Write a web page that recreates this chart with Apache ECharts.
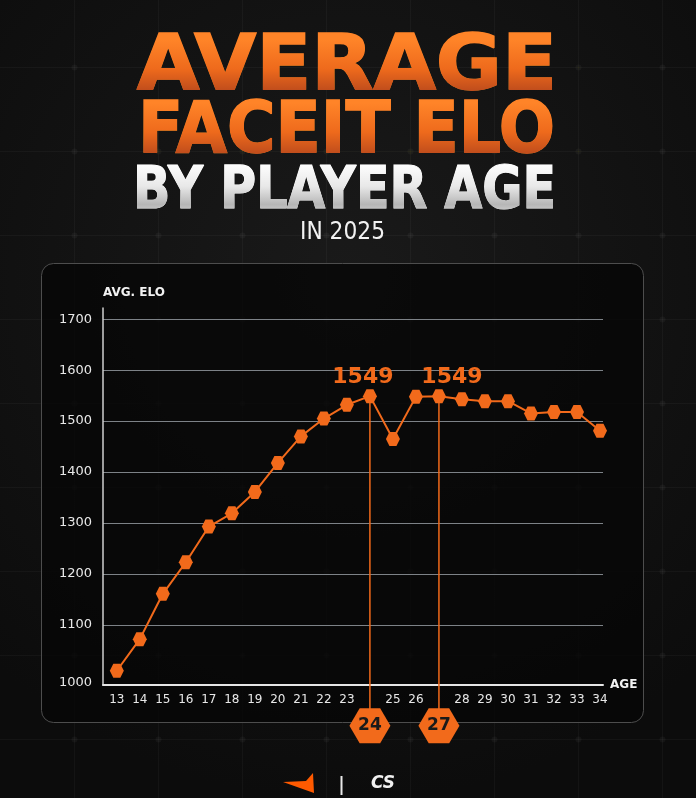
<!DOCTYPE html>
<html><head><meta charset="utf-8">
<script src="https://cdn.jsdelivr.net/npm/echarts@6/dist/echarts.min.js"></script>
<style>html,body{margin:0;padding:0;background:#121212;}#c{width:696px;height:798px;}</style>
</head><body><div id="c"></div>
<script>
// ---- data ----
const ages = [13,14,15,16,17,18,19,20,21,22,23,24,25,26,27,28,29,30,31,32,33,34];
const avgElo = [1010,1072,1161,1223,1293,1319,1361,1418,1470,1505,1532,1549,1465,1548,1549,1543,1539,1539,1515,1518,1518,1481];
const peakAges = [24, 27];
const yLabelValues = [1000,1100,1200,1300,1400,1500,1600,1700];
const yGridValues = [1100,1200,1300,1400,1500,1600,1700];
const xLabelValues = [13,14,15,16,17,18,19,20,21,22,23,25,26,28,29,30,31,32,33,34];
const titleLine1 = 'AVERAGE';
const titleLine2 = 'FACEIT ELO';
const titleLine3 = 'BY PLAYER AGE';
const subtitle = 'IN 2025';
const yAxisName = 'AVG. ELO';
const xAxisName = 'AGE';

// ---- style ----
const ORANGE = '#f26a1b';
const FONT = '"DejaVu Sans", sans-serif';
const Y_MIN = 982, Y_MAX = 1722;
const BADGE_LEVEL = Y_MIN - 80;
const HEX_MARK = 'path://M-1,0 L-0.5,-0.866 L0.5,-0.866 L1,0 L0.5,0.866 L-0.5,0.866 Z';
const HEX_BADGE = 'path://M0,17 L10,0 L30,0 L40,17 L30,34 L10,34 Z';

const chart = echarts.init(document.getElementById('c'), null, {renderer: 'canvas'});

const mctx = document.createElement('canvas').getContext('2d');
function fitScale(text, font, target) { mctx.font = font; return target / mctx.measureText(text).width; }

function titleText(text, size, weight, cx, capCenter, targetW, fill, strokeW) {
  const font = weight + ' ' + size + 'px ' + FONT;
  const s = fitScale(text, font, targetW);
  const style = { text: text, font: font, fill: fill, align: 'center', verticalAlign: 'middle' };
  if (strokeW) { style.stroke = fill; style.lineWidth = strokeW; }
  return { type: 'text', x: cx, y: capCenter + 0.068 * size, scaleX: s, z: 10, style: style };
}
// gradient shading of the title letters via a 'darken' blend overlay
function shade(y, h, stops) {
  return { type: 'rect', z: 11, silent: true, shape: {x: 110, y: y, width: 476, height: h},
    style: { fill: new echarts.graphic.LinearGradient(0, 0, 0, 1, stops), blend: 'darken' } };
}

const graphics = [];
graphics.push({ type: 'rect', z: -10, shape: {x: 0, y: 0, width: 696, height: 798},
  style: { fill: new echarts.graphic.RadialGradient(0.5, 0.35, 0.75, [{offset: 0, color: '#1a1a1a'}, {offset: 1, color: '#0c0c0c'}]) } });
for (let x = 74 - 84; x < 696; x += 84) {
  graphics.push({ type: 'line', z: -9, shape: {x1: x + 0.5, y1: 0, x2: x + 0.5, y2: 798}, style: {stroke: 'rgba(255,255,255,0.035)', lineWidth: 1} });
}
for (let y = 67 - 84; y < 798; y += 84) {
  graphics.push({ type: 'line', z: -9, shape: {x1: 0, y1: y + 0.5, x2: 696, y2: y + 0.5}, style: {stroke: 'rgba(255,255,255,0.035)', lineWidth: 1} });
}
for (let x = 74 - 84; x < 696; x += 84) for (let y = 67 - 84; y < 798; y += 84) {
  graphics.push({ type: 'circle', z: -9, shape: {cx: x + 0.5, cy: y + 0.5, r: 3}, style: {fill: 'rgba(255,255,255,0.04)'} });
}
graphics.push({ type: 'rect', z: -5, shape: {x: 41.5, y: 263.5, width: 602, height: 459, r: 12},
  style: { fill: 'rgba(6,6,6,0.8)', stroke: '#4d4d4d', lineWidth: 1 } });

graphics.push(titleText(titleLine1, 76, 'bold', 347, 64.5, 420, '#ff8428', 1.5));
graphics.push(titleText(titleLine2, 71, 'bold', 346.5, 129, 417, '#ff8428', 1.5));
graphics.push(titleText(titleLine3, 59, 'bold', 344.5, 188.5, 423, '#ffffff', 1.2));
graphics.push(titleText(subtitle, 24, 'normal', 342.5, 231, 85, '#f2f2f2', 0));
const orangeStops = [{offset: 0, color: '#ffffff'}, {offset: 0.08, color: '#ff8428'}, {offset: 0.55, color: '#ee6a1c'}, {offset: 1, color: '#b2441c'}];
graphics.push(shade(35, 62, orangeStops));
graphics.push(shade(98, 62, orangeStops));
graphics.push(shade(163, 52, [{offset: 0, color: '#ffffff'}, {offset: 0.45, color: '#e8e8e8'}, {offset: 0.8, color: '#b6b6b6'}, {offset: 1, color: '#d6d6d6'}]));

// footer logos
graphics.push({ type: 'polygon', z: 10, shape: {points: [[283, 782], [306, 781], [313, 773], [314, 793]]}, style: {fill: '#ff5a00'} });
graphics.push({ type: 'line', z: 10, shape: {x1: 341.5, y1: 776, x2: 341.5, y2: 795}, style: {stroke: '#e8e8e8', lineWidth: 2} });
graphics.push({ type: 'text', z: 10, x: 383, y: 784, style: {text: 'CS', font: 'italic bold 17px ' + FONT, fill: '#f0f0f0', align: 'center', verticalAlign: 'middle'} });

const lineData = ages.map((a, i) => {
  const item = { value: [a, avgElo[i]] };
  const p = peakAges.indexOf(a);
  if (p >= 0) {
    item.label = { show: true, position: 'top', distance: 1, offset: [p === 0 ? -7 : 13, 0],
      formatter: String(avgElo[i]), color: ORANGE, fontSize: 22, fontWeight: 'bold', fontFamily: FONT };
  }
  return item;
});

const dropSeries = peakAges.map(a => ({
  type: 'line', clip: false, silent: true, z: 1,
  lineStyle: { color: ORANGE, width: 1.5 }, itemStyle: { color: ORANGE },
  data: [
    { value: [a, avgElo[ages.indexOf(a)]], symbol: 'none' },
    { value: [a, BADGE_LEVEL], symbol: HEX_BADGE, symbolSize: [41, 35],
      label: { show: true, position: 'inside', formatter: String(a), color: '#1a1a1a', fontSize: 17, fontWeight: 'bold', fontFamily: FONT } }
  ]
}));

chart.setOption({
  animation: false,
  backgroundColor: 'transparent',
  graphic: graphics,
  grid: { left: 103, right: 93, top: 308, bottom: 113, containLabel: false },
  xAxis: {
    type: 'value', min: 12.4, max: 34.13,
    name: xAxisName, nameLocation: 'end', nameGap: 7,
    nameTextStyle: { color: '#f2f2f2', fontWeight: 'bold', fontSize: 12, fontFamily: FONT, padding: [0, 0, 10, 0] },
    axisLine: { show: true, lineStyle: { color: '#e6e6e6', width: 2 } },
    axisTick: { show: false },
    splitLine: { show: false },
    axisLabel: { customValues: xLabelValues, color: '#e8e8e8', fontSize: 12, fontFamily: FONT, margin: 9 }
  },
  yAxis: {
    type: 'value', min: Y_MIN, max: Y_MAX,
    name: yAxisName, nameLocation: 'end', nameGap: 9,
    nameTextStyle: { color: '#f2f2f2', fontWeight: 'bold', fontSize: 12, fontFamily: FONT, align: 'left' },
    axisLine: { show: true, lineStyle: { color: '#cfcfcf', width: 1.5 } },
    axisTick: { show: false, customValues: yGridValues },
    splitLine: { show: true, lineStyle: { color: '#7d8287', width: 1 } },
    axisLabel: { customValues: yLabelValues, color: '#e8e8e8', fontSize: 13, fontFamily: FONT, margin: 11,
      formatter: v => v === yLabelValues[0] ? '{low|' + v + '}' : String(v),
      rich: { low: { padding: [14, 0, 0, 0], color: '#e8e8e8', fontSize: 13, fontFamily: FONT } } }
  },
  series: [
    { type: 'line', z: 3, data: lineData, symbol: HEX_MARK, symbolSize: 14,
      lineStyle: { color: ORANGE, width: 2 }, itemStyle: { color: ORANGE } },
    ...dropSeries
  ]
});
</script></body></html>
